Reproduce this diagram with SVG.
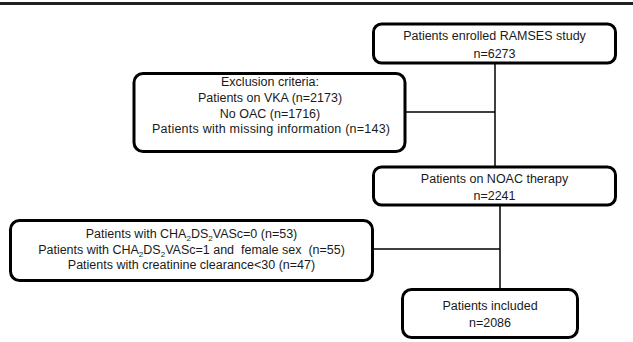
<svg xmlns="http://www.w3.org/2000/svg" width="633" height="342" viewBox="0 0 633 342">
<style>
.box{fill:#fff;stroke:#000;stroke-width:3}
.t{font-family:"Liberation Sans",Arial,sans-serif;font-size:12.5px;fill:#1a1a1a;text-anchor:middle}
.c{stroke:#000;stroke-width:1.5;fill:none}
.s{font-size:8px}
</style>
<rect x="0" y="2" width="633" height="3" fill="#222"/>
<g id="connectors">
<line class="c" x1="495" y1="63" x2="495" y2="167"/>
<line class="c" x1="405" y1="112" x2="495" y2="112"/>
<line class="c" x1="500" y1="205" x2="500" y2="289"/>
<line class="c" x1="373" y1="249" x2="500" y2="249"/>
</g>
<g id="enrolled">
<rect class="box" x="373.5" y="24" width="242" height="39" rx="8"/>
<text class="t" x="494.5" y="39.5">Patients enrolled RAMSES study</text>
<text class="t" x="494.5" y="57.5">n=6273</text>
</g>
<g id="exclusion">
<rect class="box" x="134" y="73.5" width="271" height="78" rx="9"/>
<text class="t" x="270" y="85.5">Exclusion criteria:</text>
<text class="t" x="270" y="101.5">Patients on VKA (n=2173)</text>
<text class="t" x="270" y="117.5">No OAC (n=1716)</text>
<text class="t" x="271" y="132.5" textLength="238" lengthAdjust="spacing">Patients with missing information (n=143)</text>
</g>
<g id="noac">
<rect class="box" x="373.5" y="167" width="242" height="38" rx="8"/>
<text class="t" x="494.5" y="182.5">Patients on NOAC therapy</text>
<text class="t" x="494.5" y="199.5">n=2241</text>
</g>
<g id="excluded2">
<rect class="box" x="10.5" y="220.5" width="362" height="60" rx="9"/>
<text class="t" x="191.5" y="237.5">Patients with CHA<tspan class="s" dy="3">2</tspan><tspan dy="-3">DS</tspan><tspan class="s" dy="3">2</tspan><tspan dy="-3">VASc=0 (n=53)</tspan></text>
<text class="t" x="191.5" y="253.5" xml:space="preserve">Patients with CHA<tspan class="s" dy="3">2</tspan><tspan dy="-3">DS</tspan><tspan class="s" dy="3">2</tspan><tspan dy="-3">VASc=1 and  female sex  (n=55)</tspan></text>
<text class="t" x="191.5" y="268.5">Patients with creatinine clearance&lt;30 (n=47)</text>
</g>
<g id="included">
<rect class="box" x="402.5" y="289.5" width="175" height="48" rx="9"/>
<text class="t" x="490" y="309.5">Patients included</text>
<text class="t" x="490" y="326.5">n=2086</text>
</g>
</svg>
